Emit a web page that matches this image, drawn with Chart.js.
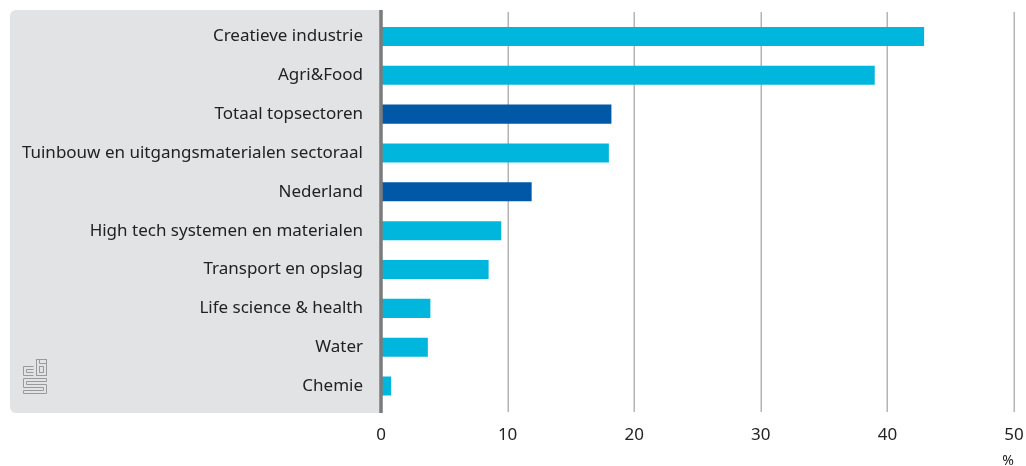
<!DOCTYPE html>
<html>
<head>
<meta charset="utf-8">
<script src="https://cdn.jsdelivr.net/npm/chart.js@4/dist/chart.umd.min.js"></script>
<style>
  html, body { margin: 0; padding: 0; background: #fff; }
  #wrap { width: 1026px; height: 466px; position: relative; }
</style>
</head>
<body>
<div id="wrap"><canvas id="chart" width="1026" height="466"></canvas></div>
<script>
// Data (%)
const categories = [
  'Creatieve industrie',
  'Agri&Food',
  'Totaal topsectoren',
  'Tuinbouw en uitgangsmaterialen sectoraal',
  'Nederland',
  'High tech systemen en materialen',
  'Transport en opslag',
  'Life science & health',
  'Water',
  'Chemie'
];
const values = [42.9, 39.0, 18.2, 18.0, 11.9, 9.5, 8.5, 3.9, 3.7, 0.8];
const totals = ['Totaal topsectoren', 'Nederland'];
const xTicks = [0, 10, 20, 30, 40, 50];
const unitLabel = '%';

const LIGHT = '#00b6dd';
const DARK = '#0058a6';
const FONT = '"Noto Sans", sans-serif';

// gray label panel, cbs logo, gridlines and axis line
const backdrop = {
  id: 'backdrop',
  beforeDraw(chart) {
    const ctx = chart.ctx;
    const ca = chart.chartArea;
    const x = chart.scales.x;
    ctx.save();
    ctx.fillStyle = '#e2e3e5';
    ctx.beginPath();
    ctx.roundRect(10, 10, ca.left - 10, 403, [6, 0, 0, 6]);
    ctx.fill();

    // gridlines
    ctx.strokeStyle = '#b4b4b4';
    ctx.lineWidth = 1.5;
    xTicks.slice(1).forEach(v => {
      const px = Math.round(x.getPixelForValue(v)) + 0.25;
      ctx.beginPath();
      ctx.moveTo(px, 12);
      ctx.lineTo(px, 412);
      ctx.stroke();
    });

    // cbs logo
    ctx.strokeStyle = '#9a9a9a';
    ctx.lineWidth = 1;
    const lx = 23, ly = 359;
    // c
    ctx.beginPath();
    ctx.moveTo(lx + 10.5, ly + 7.5); ctx.lineTo(lx + 0.5, ly + 7.5);
    ctx.lineTo(lx + 0.5, ly + 16.5); ctx.lineTo(lx + 10.5, ly + 16.5);
    ctx.moveTo(lx + 10.5, ly + 10.5); ctx.lineTo(lx + 3.5, ly + 10.5);
    ctx.lineTo(lx + 3.5, ly + 13.5); ctx.lineTo(lx + 10.5, ly + 13.5);
    ctx.stroke();
    // b
    ctx.strokeRect(lx + 13.5, ly + 0.5, 10, 16);
    ctx.strokeRect(lx + 16.5, ly + 7.5, 4, 6);
    ctx.beginPath();
    ctx.moveTo(lx + 16.5, ly + 0.5); ctx.lineTo(lx + 16.5, ly + 4.5);
    ctx.lineTo(lx + 23.5, ly + 4.5);
    ctx.stroke();
    // S
    ctx.beginPath();
    ctx.moveTo(lx + 23.5, ly + 19.5); ctx.lineTo(lx + 0.5, ly + 19.5);
    ctx.lineTo(lx + 0.5, ly + 28.5); ctx.lineTo(lx + 20.5, ly + 28.5);
    ctx.lineTo(lx + 20.5, ly + 31.5); ctx.lineTo(lx + 0.5, ly + 31.5);
    ctx.lineTo(lx + 0.5, ly + 34.5); ctx.lineTo(lx + 23.5, ly + 34.5);
    ctx.lineTo(lx + 23.5, ly + 25.5); ctx.lineTo(lx + 3.5, ly + 25.5);
    ctx.lineTo(lx + 3.5, ly + 22.5); ctx.lineTo(lx + 23.5, ly + 22.5);
    ctx.closePath();
    ctx.stroke();
    ctx.restore();
  },
  afterDatasetsDraw(chart) {
    const ctx = chart.ctx;
    const x0 = chart.scales.x.getPixelForValue(0);
    ctx.save();
    ctx.strokeStyle = '#7b7b7b';
    ctx.lineWidth = 3.5;
    ctx.beginPath();
    ctx.moveTo(x0, 10);
    ctx.lineTo(x0, 413);
    ctx.stroke();
    ctx.restore();
  }
};

new Chart(document.getElementById('chart'), {
  type: 'bar',
  data: {
    labels: categories,
    datasets: [{
      data: values,
      backgroundColor: categories.map(c => totals.includes(c) ? DARK : LIGHT),
      borderWidth: 0,
      categoryPercentage: 1,
      barPercentage: 0.49
    }]
  },
  options: {
    indexAxis: 'y',
    responsive: false,
    animation: false,
    layout: { padding: { left: 10, top: 17, right: 12, bottom: 0 } },
    plugins: { legend: { display: false }, tooltip: { enabled: false } },
    scales: {
      x: {
        min: 0, max: 50,
        afterBuildTicks: s => { s.ticks = xTicks.map(v => ({ value: v })); },
        afterFit: s => { s.height = 60.5; s.paddingLeft = 0; s.paddingRight = 0; },
        grid: { display: false, drawTicks: false },
        border: { display: false },
        ticks: { padding: 19, color: '#222', font: { family: FONT, size: 17 } },
        title: {
          display: true, text: unitLabel, align: 'end',
          color: '#222', font: { family: FONT, size: 14 }, padding: { top: 0, bottom: -3 }
        }
      },
      y: {
        afterFit: s => { s.width = 371; s.paddingTop = 0; s.paddingBottom = 0; },
        grid: { display: false, drawTicks: false },
        border: { display: false },
        ticks: { padding: 18, color: '#222', font: { family: FONT, size: 17 } }
      }
    }
  },
  plugins: [backdrop]
});
</script>
</body>
</html>
